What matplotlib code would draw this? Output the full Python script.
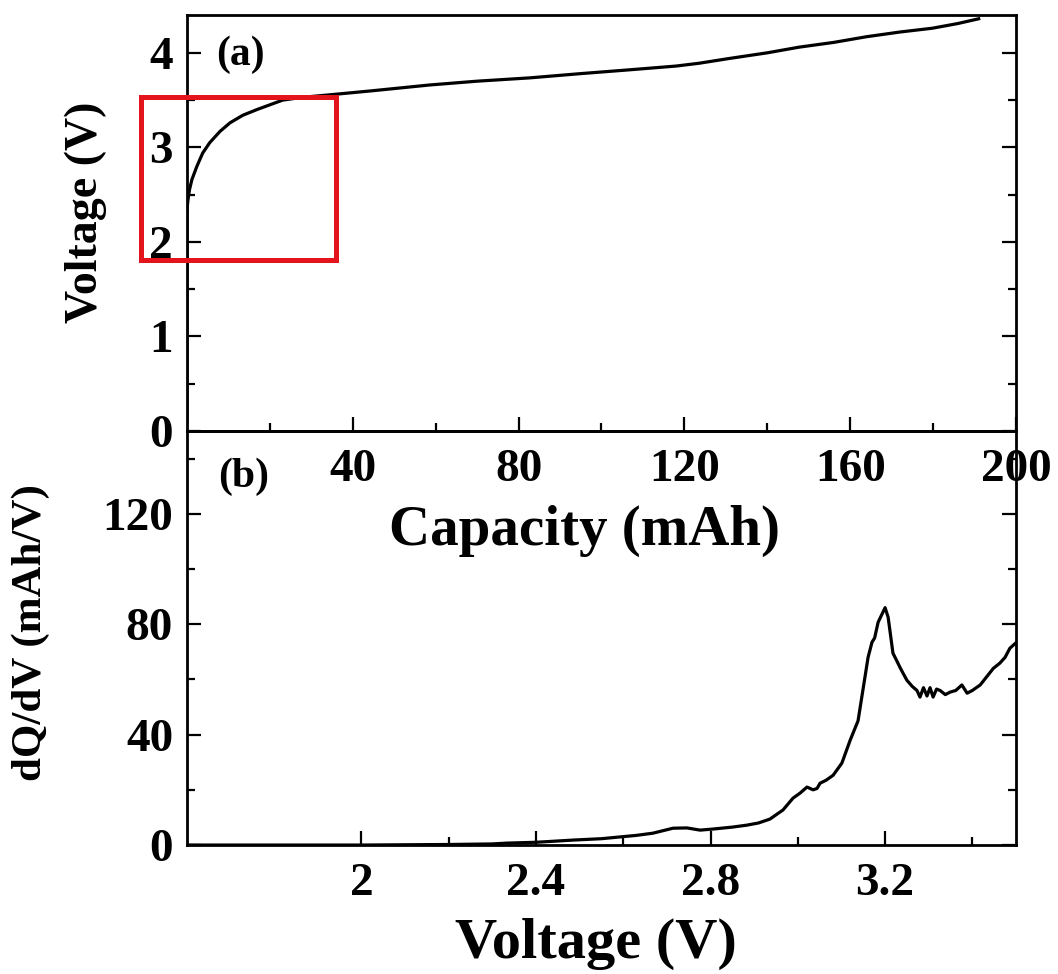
import matplotlib
matplotlib.use("Agg")
import matplotlib.pyplot as plt
from matplotlib.patches import Rectangle
from matplotlib.ticker import FixedLocator, MultipleLocator

plt.rcParams['font.family'] = ['Liberation Serif', 'DejaVu Serif']
plt.rcParams['font.weight'] = 'bold'
plt.rcParams['axes.labelweight'] = 'bold'

# (a) charge curve: capacity (mAh) vs voltage (V)
capacity = [0, 0, 0.1, 0.24, 0.6, 1.2, 2.4, 3.8, 5.5, 8, 10.4, 13.5, 16.9, 20,
            23.1, 28, 34.5, 45, 58.6, 70, 82.7, 95, 106.7, 118, 123.6, 130.8,
            140, 147.7, 156, 163.9, 172, 179.8, 186, 191]
voltage_a = [0.1, 2.3, 2.38, 2.44, 2.55, 2.66, 2.8, 2.94, 3.05, 3.17, 3.26,
             3.34, 3.4, 3.45, 3.5, 3.53, 3.556, 3.6, 3.66, 3.70, 3.735, 3.78,
             3.82, 3.86, 3.89, 3.94, 4.0, 4.06, 4.11, 4.17, 4.22, 4.26, 4.31,
             4.36]

# (b) differential capacity dQ/dV (mAh/V) vs voltage (V)
voltage_b = [1.6, 1.8, 2.0, 2.1, 2.2, 2.3, 2.333, 2.4, 2.485, 2.55, 2.59, 2.63,
             2.668, 2.714, 2.746, 2.776, 2.806, 2.85, 2.883, 2.91, 2.936,
             2.966, 2.989, 3.005, 3.021, 3.035, 3.044, 3.051, 3.065, 3.081,
             3.101, 3.12, 3.138, 3.149, 3.161, 3.17, 3.176, 3.184, 3.2, 3.207,
             3.218, 3.226, 3.234, 3.242, 3.25, 3.262, 3.273, 3.28, 3.288,
             3.296, 3.303, 3.31, 3.318, 3.326, 3.338, 3.349, 3.362, 3.376,
             3.388, 3.40, 3.418, 3.433, 3.448, 3.463, 3.475, 3.486, 3.498]
dqdv = [0, 0, 0, 0.1, 0.2, 0.4, 0.7, 1.0, 1.8, 2.3, 2.9, 3.5, 4.3, 6.1, 6.2,
        5.4, 5.8, 6.5, 7.2, 8.0, 9.4, 12.7, 17, 18.8, 21, 20, 20.5, 22.4, 23.5,
        25.3, 29.7, 38, 45, 56, 68, 73.5, 75, 80.7, 86, 82.5, 69.5, 67, 64.4,
        62, 59.7, 57.5, 56, 53.6, 57, 54, 57, 53.6, 56.5, 56, 54.5, 55.4, 56,
        58, 55, 56, 58, 61, 64, 65.9, 68, 71.3, 73]

cap_ticks = [40, 80, 120, 160, 200]
cap_tick_labels = ['40', '80', '120', '160', '200']
volt_ticks_b = [2.0, 2.4, 2.8, 3.2]
volt_tick_labels_b = ['2', '2.4', '2.8', '3.2']
dq_ticks = [0, 40, 80, 120]

fig = plt.figure(figsize=(10.58, 9.74), dpi=100)
ax2 = fig.add_axes([0.1767, 0.1324, 0.7836, 0.4251])
ax1 = fig.add_axes([0.1767, 0.5575, 0.7836, 0.4271])
# clear backgrounds so the upper panel's tick labels show over the lower panel
ax2.patch.set_alpha(0)
ax1.patch.set_alpha(0)

line_kw = dict(color='black', lw=2.3, solid_joinstyle='round')
ax1.plot(capacity, voltage_a, **line_kw)
ax2.plot(voltage_b, dqdv, **line_kw)

for ax in (ax1, ax2):
    for s in ax.spines.values():
        s.set_linewidth(2.0)
    ax.tick_params(which='both', direction='in', left=True, right=True,
                   bottom=True, top=False, width=1.6, labelsize=34, pad=10)
    ax.tick_params(which='major', length=10)
    ax.tick_params(which='minor', length=6)

# panel (a)
ax1.set_xlim(0, 200)
ax1.set_ylim(0, 4.4)
ax1.xaxis.set_major_locator(FixedLocator(cap_ticks))
ax1.set_xticklabels(cap_tick_labels)
ax1.xaxis.set_minor_locator(FixedLocator([20, 60, 100, 140, 180]))
ax1.yaxis.set_major_locator(MultipleLocator(1))
ax1.yaxis.set_minor_locator(MultipleLocator(0.5))
ax1.tick_params(axis='x', pad=13)
ax1.set_xlabel('Capacity (mAh)', fontsize=41)
ax1.xaxis.set_label_coords(0.48, -0.178)
ax1.set_ylabel('Voltage (V)', fontsize=33)
ax1.yaxis.set_label_coords(-0.096, 0.526)
ax1.text(0.065, 0.905, '(a)', transform=ax1.transAxes, fontsize=30,
         ha='center', va='center')

# highlighted low-voltage region
ax1.add_patch(Rectangle((-11, 1.81), 47, 1.72, fill=False, edgecolor='#e3141b',
                        lw=3.6, clip_on=False, zorder=5))

# panel (b)
ax2.set_xlim(1.6, 3.5)
ax2.set_ylim(0, 150)
ax2.xaxis.set_major_locator(FixedLocator(volt_ticks_b))
ax2.set_xticklabels(volt_tick_labels_b)
ax2.xaxis.set_minor_locator(FixedLocator([2.2, 2.6, 3.0, 3.4]))
ax2.yaxis.set_major_locator(FixedLocator(dq_ticks))
ax2.yaxis.set_minor_locator(FixedLocator([20, 60, 100, 140]))
ax2.tick_params(axis='x', pad=13)
ax2.set_xlabel('Voltage (V)', fontsize=42)
ax2.xaxis.set_label_coords(0.493, -0.176)
ax2.set_ylabel('dQ/dV (mAh/V)', fontsize=31)
ax2.yaxis.set_label_coords(-0.165, 0.514)
ax2.text(0.068, 0.89, '(b)', transform=ax2.transAxes, fontsize=30,
         ha='center', va='center')

fig.savefig('out.png', dpi=100)
